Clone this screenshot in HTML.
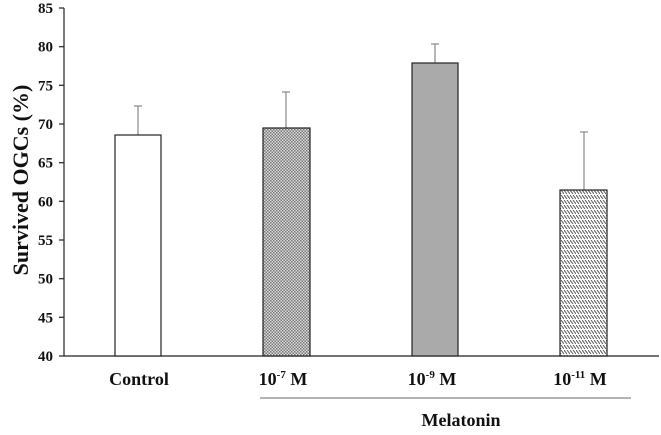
<!DOCTYPE html>
<html><head><style>body{margin:0;background:#fff}</style></head><body>
<svg width="661" height="430" xmlns="http://www.w3.org/2000/svg" font-family="Liberation Serif, serif" font-weight="bold">
<defs>
<pattern id="p1" width="3" height="3" patternUnits="userSpaceOnUse"><rect width="3" height="3" fill="#ddd"/><rect width="1.5" height="1.5" fill="#777"/><rect x="1.5" y="1.5" width="1.5" height="1.5" fill="#777"/></pattern>
<pattern id="p2" width="6" height="5" patternUnits="userSpaceOnUse"><rect width="6" height="5" fill="#fff"/><path d="M0,0 L3,4 M3,0 L6,4" stroke="#555" stroke-width="1"/></pattern>
</defs>
<g stroke="#222" stroke-width="1.2">
<line x1="64" y1="8" x2="64" y2="356"/>
<line x1="64" y1="356" x2="659" y2="356"/>
<line x1="59" y1="8" x2="64" y2="8"/><line x1="59" y1="46.7" x2="64" y2="46.7"/><line x1="59" y1="85.3" x2="64" y2="85.3"/><line x1="59" y1="124" x2="64" y2="124"/><line x1="59" y1="162.7" x2="64" y2="162.7"/><line x1="59" y1="201.3" x2="64" y2="201.3"/><line x1="59" y1="240" x2="64" y2="240"/><line x1="59" y1="278.7" x2="64" y2="278.7"/><line x1="59" y1="317.3" x2="64" y2="317.3"/><line x1="59" y1="356" x2="64" y2="356"/>
</g>
<g stroke="#888" stroke-width="1.2">
<line x1="138" y1="135" x2="138" y2="106"/><line x1="134" y1="106" x2="142" y2="106"/>
<line x1="286" y1="128" x2="286" y2="92"/><line x1="282" y1="92" x2="290" y2="92"/>
<line x1="435" y1="63" x2="435" y2="44"/><line x1="431" y1="44" x2="439" y2="44"/>
<line x1="584" y1="190" x2="584" y2="132"/><line x1="580" y1="132" x2="588" y2="132"/>
<line x1="260" y1="398" x2="631" y2="398"/>
</g>
<g stroke="#222" stroke-width="1.2">
<rect x="115" y="135" width="46" height="221" fill="#fff"/>
<rect x="263" y="128" width="47" height="228" fill="url(#p1)"/>
<rect x="412" y="63" width="46" height="293" fill="#aaa"/>
<rect x="560" y="190" width="47" height="166" fill="url(#p2)"/>
</g>
<g font-size="15" text-anchor="end" fill="#111">
<text x="53" y="13">85</text><text x="53" y="51.7">80</text><text x="53" y="90.3">75</text><text x="53" y="129">70</text><text x="53" y="167.7">65</text><text x="53" y="206.3">60</text><text x="53" y="245">55</text><text x="53" y="283.7">50</text><text x="53" y="322.3">45</text><text x="53" y="361">40</text>
</g>
<g font-size="18" text-anchor="middle" fill="#111">
<text x="139" y="385">Control</text>
<text x="283" y="385">10<tspan font-size="11" dy="-7">-7</tspan><tspan dy="7"> M</tspan></text>
<text x="432" y="385">10<tspan font-size="11" dy="-7">-9</tspan><tspan dy="7"> M</tspan></text>
<text x="580" y="385">10<tspan font-size="11" dy="-7">-11</tspan><tspan dy="7"> M</tspan></text>
<text x="461" y="426">Melatonin</text>
</g>
<text transform="translate(28,180) rotate(-90)" font-size="22" text-anchor="middle" fill="#111">Survived OGCs  (%)</text>
</svg>
</body></html>
